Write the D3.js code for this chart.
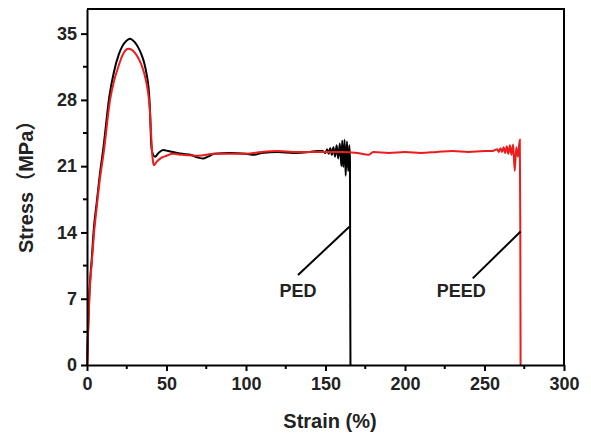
<!DOCTYPE html>
<html>
<head>
<meta charset="utf-8">
<script src="https://cdn.jsdelivr.net/npm/d3@7"></script>
<style>
  body { margin: 0; background: #fff; }
  text { font-family: Arial, "Liberation Sans", "Noto Sans CJK SC", sans-serif; font-weight: bold; }
</style>
</head>
<body>
<script>
// PED (black)
const pedStrain = [0, 0.5, 1, 1.5, 2, 3, 4.2, 6, 8, 10.5, 14, 17, 20, 22, 24, 26, 27, 28, 30, 32, 34, 36, 37.5, 38.7, 39.6, 40.2, 41, 42.8, 45, 48, 51, 54, 60, 65, 70, 73, 76, 80, 90, 100, 105, 110, 120, 130, 140, 145, 148, 150, 151, 152, 153, 154, 155, 156, 157, 158, 159, 160, 160.5, 161.2, 162, 162.7, 163.5, 164.3, 165, 165.4, 165.5, 165.7]
const pedStress = [0, 2.8, 5.3, 7.5, 9, 11.2, 14.2, 17, 20, 23.2, 28.3, 31, 32.8, 33.6, 34.1, 34.4, 34.45, 34.4, 34.1, 33.6, 32.9, 31.9, 30.7, 29.3, 27, 24, 22.5, 22, 22.4, 22.7, 22.6, 22.5, 22.3, 22.2, 21.9, 21.8, 22, 22.3, 22.4, 22.3, 22.2, 22.4, 22.5, 22.4, 22.5, 22.6, 22.6, 22.4, 22.8, 22.3, 22.9, 22.2, 23, 22, 23.2, 21.8, 23.4, 21, 23.7, 20.9, 23.8, 20, 23.6, 20.5, 23.2, 21.5, 10, 0]

// PEED (red)
const peedStrain = [0, 0.5, 1, 1.5, 2, 3, 4.4, 6, 8, 10.7, 14.5, 17, 19.7, 22, 24, 26, 28, 30, 32, 34, 36, 37.5, 38.7, 39.7, 40.3, 40.8, 41.5, 42.1, 44, 47, 50, 54, 60, 70, 80, 90, 100, 110, 120, 130, 140, 150, 160, 170, 177, 180, 190, 200, 210, 220, 230, 240, 250, 255, 258, 259, 260, 261, 262, 263, 264, 265, 266, 267, 268, 269, 270, 271, 272.2, 272.5, 272.7]
const peedStress = [0, 2.5, 4.9, 7.2, 8.7, 10.8, 13.9, 16.5, 19.5, 22.7, 28, 30, 31.5, 32.6, 33.2, 33.4, 33.3, 33, 32.5, 31.8, 30.8, 29.7, 28.4, 26.5, 24.5, 22.8, 21.5, 21.1, 21.5, 21.9, 22.1, 22.3, 22.2, 22.1, 22.3, 22.3, 22.3, 22.5, 22.6, 22.5, 22.5, 22.5, 22.5, 22.4, 22.2, 22.5, 22.4, 22.5, 22.4, 22.5, 22.6, 22.5, 22.6, 22.6, 22.8, 22.5, 22.9, 22.5, 23, 22.4, 23.1, 22.3, 23.2, 22.2, 23.3, 20.5, 23, 22, 23.8, 15, 0]

const xTicks = [0, 50, 100, 150, 200, 250, 300]
const yTicks = [0, 7, 14, 21, 28, 35]

const labels = [
  {text: "PED", x: 121, y: 7.2, lx1: 132.7, ly1: 9.5, lx2: 165, ly2: 14.6},
  {text: "PEED", x: 220, y: 7.2, lx1: 242.6, ly1: 9.15, lx2: 272.7, ly2: 14.1}
]

const width = 591, height = 437
const margin = {top: 9, right: 27, bottom: 72, left: 87}

const svg = d3.select("body").append("svg")
  .attr("width", width)
  .attr("height", height)

const x = d3.scaleLinear().domain([0, 300]).range([margin.left, width - margin.right])
const y = d3.scaleLinear().domain([0, 37.6]).range([height - margin.bottom, margin.top])

// frame top/right
svg.append("path")
  .attr("d", `M${x(0)},${y(37.6)}H${x(300)}V${y(0)}`)
  .attr("fill", "none")
  .attr("stroke", "#000")
  .attr("stroke-width", 2)

const line = d3.line().curve(d3.curveMonotoneX).x(d => x(d[0])).y(d => y(d[1]))

svg.append("path")
  .datum(pedStrain.map((s, i) => [s, pedStress[i]]))
  .attr("d", line)
  .attr("fill", "none")
  .attr("stroke", "#000")
  .attr("stroke-width", 2)

svg.append("path")
  .datum(peedStrain.map((s, i) => [s, peedStress[i]]))
  .attr("d", line)
  .attr("fill", "none")
  .attr("stroke", "#ec1c1c")
  .attr("stroke-width", 2)

// axes
const xMinor = d3.range(25, 300, 50)
const yMinor = d3.range(3.5, 37.6, 7)

const xAxis = svg.append("g")
  .attr("transform", `translate(0,${y(0)})`)
  .call(d3.axisBottom(x).tickValues(xTicks).tickSize(6).tickPadding(6).tickSizeOuter(0))
xAxis.append("g").selectAll("line").data(xMinor).join("line")
  .attr("x1", d => x(d)).attr("x2", d => x(d))
  .attr("y1", 0).attr("y2", 4)
  .attr("stroke", "#000").attr("stroke-width", 2)

const yAxis = svg.append("g")
  .attr("transform", `translate(${x(0)},0)`)
  .call(d3.axisLeft(y).tickValues(yTicks).tickSize(6).tickPadding(4).tickSizeOuter(0))
yAxis.append("g").selectAll("line").data(yMinor).join("line")
  .attr("y1", d => y(d)).attr("y2", d => y(d))
  .attr("x1", 0).attr("x2", -4)
  .attr("stroke", "#000").attr("stroke-width", 2)

svg.selectAll(".domain").attr("stroke-width", 2)
svg.selectAll(".tick line").attr("stroke-width", 2)
svg.selectAll(".tick text")
  .attr("font-size", 18)
  .attr("font-family", "Arial, 'Liberation Sans', sans-serif")
  .attr("font-weight", "bold")
  .attr("fill", "#222")

svg.append("text")
  .attr("x", 330)
  .attr("y", 428)
  .attr("text-anchor", "middle")
  .attr("font-size", 20)
  .attr("fill", "#222")
  .text("Strain (%)")

svg.append("text")
  .attr("transform", "translate(33,253) rotate(-90)")
  .attr("text-anchor", "start")
  .attr("font-size", 20)
  .attr("fill", "#222")
  .text("Stress（MPa）")

// annotations
labels.forEach(l => {
  svg.append("line")
    .attr("x1", x(l.lx1)).attr("y1", y(l.ly1))
    .attr("x2", x(l.lx2)).attr("y2", y(l.ly2))
    .attr("stroke", "#000").attr("stroke-width", 2)
  svg.append("text")
    .attr("x", x(l.x))
    .attr("y", y(l.y))
    .attr("font-size", 18)
    .attr("fill", "#222")
    .text(l.text)
})
</script>
</body>
</html>
